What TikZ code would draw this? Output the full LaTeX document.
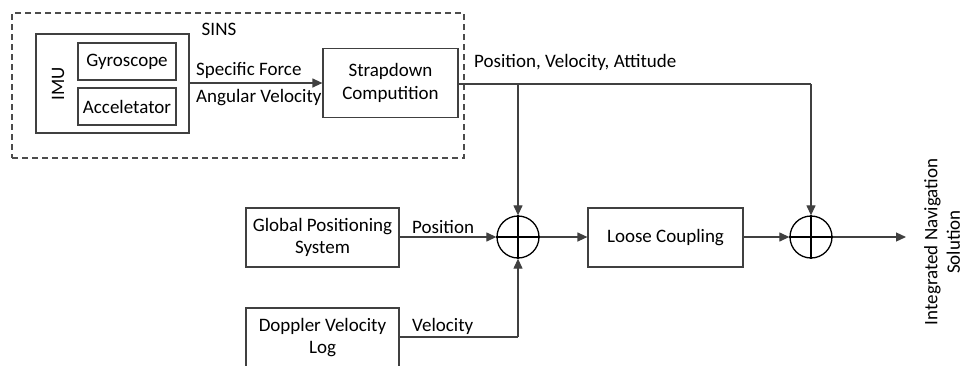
\documentclass[tikz,border=0pt]{standalone}
\usepackage{fontspec}
\setmainfont{Carlito}
\usetikzlibrary{arrows.meta}
\begin{document}
\begin{tikzpicture}[x=1pt,y=-1pt,
  every node/.style={font=\fontsize{19}{22.5}\selectfont},
  box/.style={draw=black!75, line width=1.2pt, inner sep=0pt, align=center},
  dashbox/.style={draw=black!70, line width=1.1pt, dash pattern=on 6pt off 4pt, inner sep=0pt},
  sumnode/.style={circle, draw=black, line width=1.3pt, minimum size=42pt, inner sep=0pt},
  conn/.style={draw=black!75, line width=1.2pt},
  arr/.style={conn, -{Triangle[length=10pt,width=9pt]}},
  lbl/.style={inner sep=0pt, anchor=west}
]
\useasboundingbox (0,0) rectangle (964,365);
% SINS
\node[dashbox, minimum width=452, minimum height=145] (sins) at (238,85.5) {};
\node[inner sep=0pt] (sinst) at (219,29) {SINS};
\node[box, minimum width=153, minimum height=99] (imu) at (112.5,83.5) {};
\node[rotate=90, inner sep=0pt] (imut) at (58,84) {IMU};
\node[box, minimum width=98, minimum height=37] (gyro) at (127,61.5) {Gyroscope};
\node[box, minimum width=98, minimum height=37] (acc) at (127,106.5) {Acceletator};
\node[box, minimum width=135, minimum height=69] (strap) at (390.5,83) {Strapdown\\Computition};
\draw[arr] (imu.east |- 0,83) -- (strap.west |- 0,83);
\node[lbl] (sf) at (196,70) {Specific Force};
\node[lbl] (av) at (196,98) {Angular Velocity};
% Lower part
\node[sumnode] (s1) at (518,237) {};
\node[sumnode] (s2) at (811,237) {};
\draw[line width=1.3pt] (s1.north) -- (s1.south) (s1.west) -- (s1.east);
\draw[line width=1.3pt] (s2.north) -- (s2.south) (s2.west) -- (s2.east);
\node[box, minimum width=155, minimum height=59] (lc) at (665.5,237.5) {Loose Coupling};
\node[box, minimum width=153, minimum height=59] (gps) at (322.5,237.5) {Global Positioning\\System};
\node[box, minimum width=153, minimum height=59] (dvl) at (322.5,337.5) {Doppler Velocity\\Log};
\coordinate (j1) at (518,84);
\coordinate (j2) at (811,84);
\coordinate (out) at (906,237);
\coordinate (vc) at (518,337);
\draw[conn] (strap.east |- j1) -- (j2);
\draw[arr] (j1) -- (s1.north);
\draw[arr] (j2) -- (s2.north);
\node[lbl] (pva) at (474,62) {Position, Velocity, Attitude};
\draw[arr] (gps.east |- s1) -- (s1.west);
\node[lbl] (post) at (412,227) {Position};
\draw[conn] (dvl.east |- vc) -- (vc);
\draw[arr] (vc) -- (s1.south);
\node[lbl] (velt) at (412,326) {Velocity};
\draw[arr] (s1.east) -- (lc.west |- s1);
\draw[arr] (lc.east |- s2) -- (s2.west);
\draw[arr] (s2.east) -- (out);
\node[rotate=90, align=center, inner sep=0pt] (ins) at (942,242) {Integrated Navigation\\Solution};
\end{tikzpicture}
\end{document}
